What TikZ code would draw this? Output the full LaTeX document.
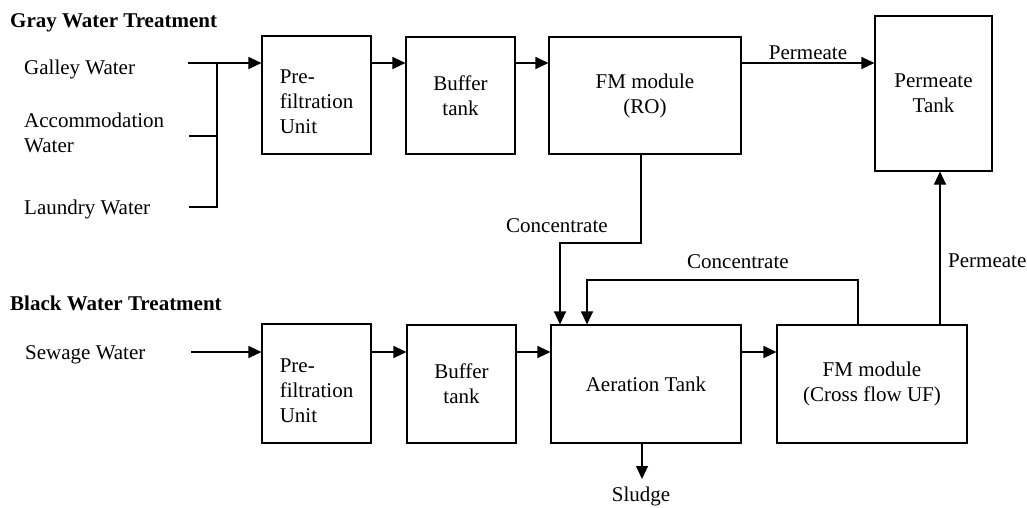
\documentclass[tikz,border=0pt]{standalone}
\usepackage{fontspec}
\setmainfont{Liberation Serif}
\usetikzlibrary{arrows.meta,calc}
\begin{document}
\begin{tikzpicture}[x=1pt,y=-1pt,
  every node/.style={font=\fontsize{21}{25}\selectfont},
  box/.style={draw,line width=1.1pt,inner sep=0pt,align=center},
  boxtext/.style={inner sep=0pt,align=left},
  lbl/.style={anchor=base west,inner sep=0pt},
  head/.style={lbl,font=\fontsize{21}{25}\selectfont\bfseries},
  flow/.style={line width=1.1pt},
  arr/.style={flow,-{Triangle[length=13pt,width=12pt]}}]
\useasboundingbox (0,0) rectangle (1027,507);

% ---------- gray water line ----------
\node[head] (grayhead) at (10,27) {Gray Water Treatment};
\node[lbl] (galley) at (24,74) {Galley Water};
\node[lbl,align=left] (accom) at (24,152) {Accommodation\\Water};
\node[lbl] (laundry) at (24,214) {Laundry Water};

\node[box,minimum width=109,minimum height=118] (pf1) at (316.5,95) {};
\node[boxtext] (pf1t) at ($(pf1.center)+(0,7)$) {Pre-\\filtration\\Unit};
\node[box,minimum width=109,minimum height=117] (buf1) at (460.5,95.5) {Buffer\\tank};
\node[box,minimum width=192,minimum height=117] (ro) at (645,95.5) {FM module\\(RO)};
\node[box,minimum width=117,minimum height=155] (pt) at (933.5,93.5) {Permeate\\Tank};

\coordinate (gy) at (0,63);
\coordinate (gin) at (188,63);
\coordinate (gj) at (217,63);
\coordinate (ain) at (189,136);
\coordinate (lin) at (189,207);

\draw[arr] (gin) -- (pf1.west |- gy);
\draw[flow] (ain) -- (gj |- ain);
\draw[flow] (lin) -| (gj);
\draw[arr] (pf1.east |- gy) -- (buf1.west |- gy);
\draw[arr] (buf1.east |- gy) -- (ro.west |- gy);
\draw[arr] (ro.east |- gy) -- node[above=3pt,inner sep=0pt] (permlbl) {Permeate} (pt.west |- gy);

% ---------- black water line ----------
\node[head] (blackhead) at (10,310) {Black Water Treatment};
\node[lbl] (sewage) at (25,359) {Sewage Water};

\node[box,minimum width=109,minimum height=119] (pf2) at (316.5,383.5) {};
\node[boxtext] (pf2t) at ($(pf2.center)+(0,7)$) {Pre-\\filtration\\Unit};
\node[box,minimum width=109,minimum height=118] (buf2) at (461.5,384) {Buffer\\tank};
\node[box,minimum width=190,minimum height=118] (aer) at (646,384) {Aeration Tank};
\node[box,minimum width=190,minimum height=118] (uf) at (872,384) {FM module\\(Cross flow UF)};

\coordinate (by) at (0,352);
\coordinate (sin) at (191,352);

\draw[arr] (sin) -- (pf2.west |- by);
\draw[arr] (pf2.east |- by) -- (buf2.west |- by);
\draw[arr] (buf2.east |- by) -- (aer.west |- by);
\draw[arr] (aer.east |- by) -- (uf.west |- by);

% concentrate from the RO module
\coordinate (rox) at (641,0);
\coordinate (c1x) at (560,0);
\coordinate (c1y) at (0,243);
\draw[arr] (ro.south -| rox) -- (rox |- c1y) -- (c1x |- c1y) -- (aer.north -| c1x);
\node[lbl] (conc1) at (506,232) {Concentrate};

% concentrate recycled from the UF module
\coordinate (c2x) at (587,0);
\coordinate (c2y) at (0,280);
\coordinate (ufx) at (858,0);
\draw[arr] (uf.north -| ufx) -- (ufx |- c2y) -- (c2x |- c2y) -- (aer.north -| c2x);
\node[lbl] (conc2) at (687,268) {Concentrate};

% permeate from the UF module
\coordinate (px) at (940,0);
\draw[arr] (uf.north -| px) -- (pt.south -| px);
\node[lbl] (perm2) at (948,267) {Permeate};

% sludge
\coordinate (sx) at (642,0);
\coordinate (sy) at (0,479);
\draw[arr] (aer.south -| sx) -- (sx |- sy);
\node[anchor=base,inner sep=0pt] (sludge) at (641,501) {Sludge};
\end{tikzpicture}
\end{document}
